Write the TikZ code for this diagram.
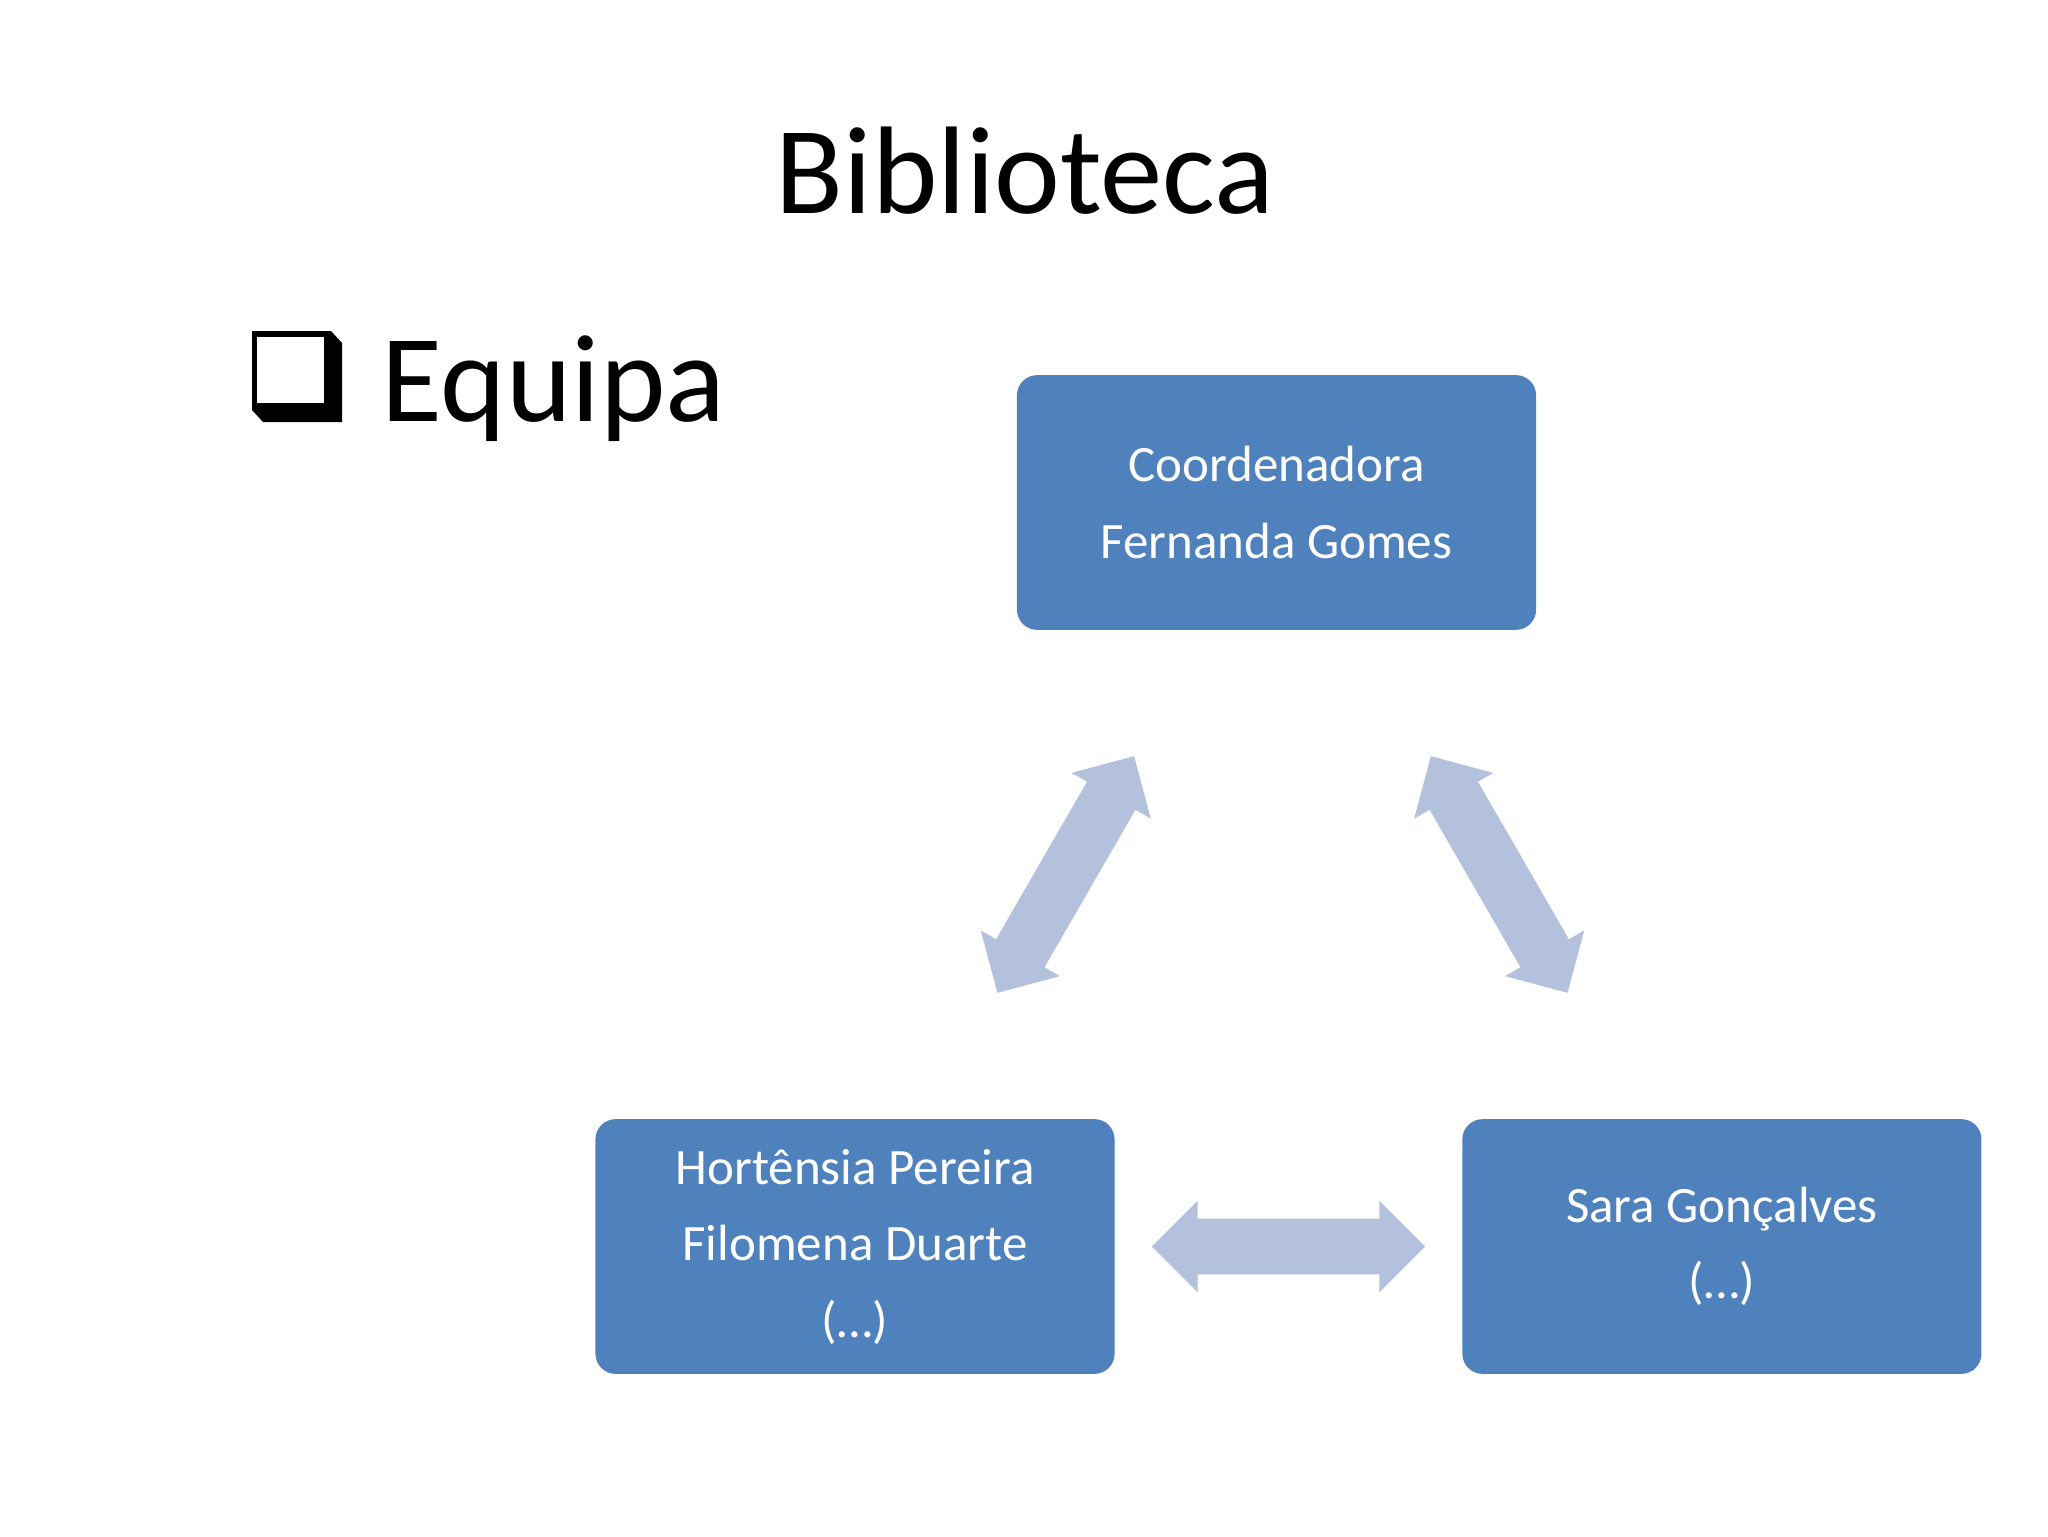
\documentclass[tikz,border=0pt]{standalone}
\usepackage{fontspec}
\setmainfont{Carlito}
\usetikzlibrary{shapes.arrows, positioning, calc}
\definecolor{boxblue}{HTML}{4F81BD}
\definecolor{arrblue}{HTML}{B3C1DC}

\begin{document}
\begin{tikzpicture}[
  x=0.0124cm, y=-0.0124cm,
  member/.style={rectangle,fill=boxblue,rounded corners=0.25cm, minimum width=6.44cm,minimum height=3.16cm,align=center,text=white,font=\fontsize{18}{27}\selectfont},
  dblarr/.style={double arrow,fill=arrblue,draw=none,inner xsep=0pt,inner ysep=0.34cm, minimum height=3.39cm,double arrow head extend=0.22cm}
]
  \useasboundingbox[fill=white] (0,0) rectangle (2048,1536);
  \node[anchor=base,inner sep=0pt,font=\fontsize{44}{53}\selectfont](title) at (1025,213){Biblioteca};
  % bullet box
  \fill (252,331) -- (331,331) -- (342,343) -- (342,422) -- (263,422) -- (252,410) -- cycle;
  \fill[white] (257,337) rectangle (324,403);
  \node[anchor=base west,inner sep=0pt,font=\fontsize{44}{53}\selectfont](equipa) at (381,421){Equipa};
  \node[member](coord) at (1276.5,502.5){Coordenadora\\Fernanda Gomes};
  \node[member](grpa) at (855,1246.5){Hortênsia Pereira\\Filomena Duarte\\(…)};
  \node[member, right=4.3cm of grpa](grpb){Sara Gonçalves\\(…)};
  \node[dblarr,rotate=60] (l1) at ($(grpa)!0.5!(coord)$) {};
  \node[dblarr,rotate=-60](l2) at ($(coord)!0.5!(grpb)$) {};
  \node[dblarr]           (l3) at ($(grpa)!0.5!(grpb)$) {};
\end{tikzpicture}
\end{document}
